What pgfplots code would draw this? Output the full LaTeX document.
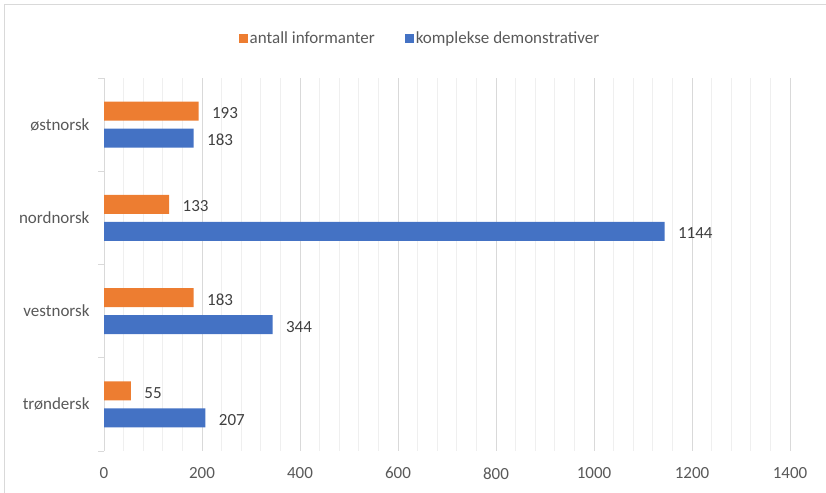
\documentclass[border=0pt]{standalone}
\usepackage{pgfplots}
\pgfplotsset{compat=1.18}
\usepackage{fontspec}
\setmainfont{Carlito}
\definecolor{cOrange}{HTML}{ED7D31}
\definecolor{cBlue}{HTML}{4472C4}
\definecolor{cText}{HTML}{595959}
\definecolor{cLab}{HTML}{404040}
\definecolor{cGrid}{HTML}{D9D9D9}
\definecolor{cMinor}{HTML}{EFEFEF}
\begin{document}
\begin{tikzpicture}[x=1bp,y=1bp]
\useasboundingbox (0,0) rectangle (826,493);
\draw[cGrid, line width=1.2bp] (4.5,-5) -- (4.5,488.5) -- (835,488.5);
\begin{axis}[
  at={(104bp,42bp)}, anchor=south west,
  scale only axis, width=686bp, height=373bp,
  xbar, bar width=19bp,
  xmin=0, xmax=1400, ymin=-0.5, ymax=3.5,
  xtick distance=200, minor x tick num=4,
  xmajorgrids, xminorgrids,
  major grid style={cGrid, line width=0.9bp},
  minor grid style={cMinor, line width=0.9bp},
  axis line style={draw=none},
  major tick length=0pt, minor tick length=0pt,
  ytick={0,1,2,3},
  yticklabels={trøndersk,vestnorsk,nordnorsk,østnorsk},
  extra y ticks={-0.5,0.5,1.5,2.5,3.5},
  extra y tick labels={},
  extra y tick style={major tick length=6bp, tick align=outside, tick style={draw=cGrid, line width=0.9bp}, ytick pos=left},
  ytick pos=left,
  tick label style={font=\fontsize{17bp}{20bp}\selectfont, text=cText},
  yticklabel style={xshift=-11bp},
  xticklabel style={yshift=-13bp},
  /pgf/number format/assume math mode=true,
  /pgf/number format/1000 sep={},
  nodes near coords,
  every node near coord/.append style={font=\fontsize{17bp}{20bp}\selectfont, text=cLab, anchor=west, xshift=10bp, yshift=-2bp},
  legend style={at={(0.4606,1.107)}, anchor=center, draw=none, fill=none,
    font=\fontsize{17bp}{20bp}\selectfont, text=cText,
    /tikz/every even column/.append style={column sep=28bp}},
  legend columns=2,
  legend image code/.code={\fill[#1] (0bp,-4.5bp) rectangle (9bp,4.5bp);},
]
\addplot[fill=cOrange, draw=none, bar shift=13.5bp] coordinates {(55,0) (183,1) (133,2) (193,3)};
\addplot[fill=cBlue, draw=none, bar shift=-13.5bp] coordinates {(207,0) (344,1) (1144,2) (183,3)};
\legend{antall informanter, komplekse demonstrativer}
\end{axis}
\end{tikzpicture}
\end{document}
